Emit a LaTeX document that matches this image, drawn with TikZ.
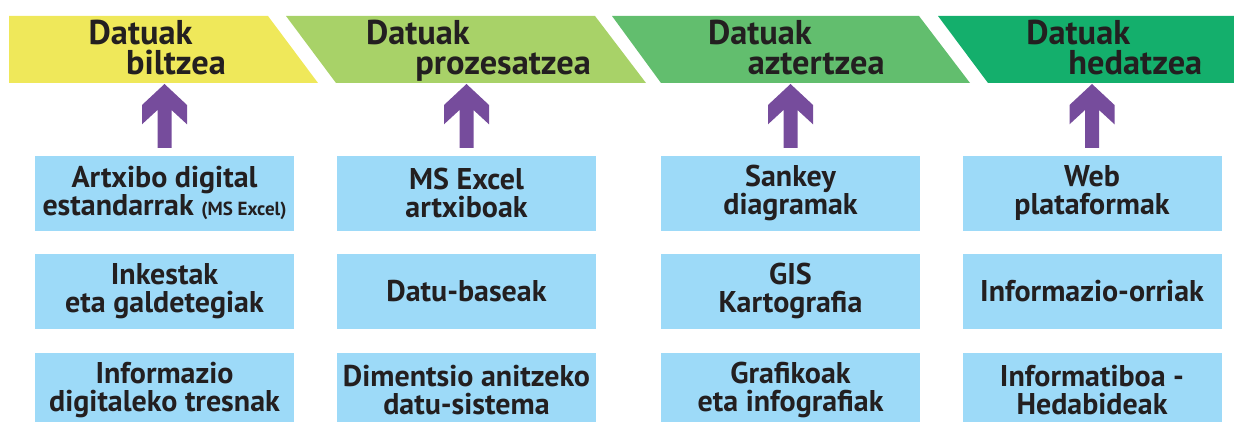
\documentclass[tikz,border=0pt]{standalone}
\usepackage{fontspec}
\setmainfont{PT Sans}
\usetikzlibrary{calc}
\definecolor{stageA}{HTML}{EFE85A}
\definecolor{stageB}{HTML}{A8D268}
\definecolor{stageC}{HTML}{62BE6E}
\definecolor{stageD}{HTML}{14AF6C}
\definecolor{toolblue}{HTML}{9DDAF8}
\definecolor{uppurple}{HTML}{764C9C}
\definecolor{ink}{HTML}{231F20}

\begin{document}
\begin{tikzpicture}[
x=0.5pt, y=-0.5pt,
tool/.style={
	rectangle, fill=toolblue,
	minimum width=129.5pt, minimum height=37.25pt,
	inner sep=0pt, align=center, text=ink,
	font=\fontsize{15}{14}\selectfont\bfseries
},
head/.style={
	anchor=base west, inner sep=0pt, text=ink,
	font=\fontsize{17.2}{16}\selectfont\bfseries
},
up/.style={
	fill=uppurple,
	to path={let \p1 = (\tikztostart), \p2 = (\tikztotarget) in
		(\x1-3.5pt,\y1+3.85pt) -- (\x1-3.5pt,\y2-13pt)
		-- (\x1-11.25pt,\y2-20.15pt) -- (\x1-11.25pt,\y2-10.5pt)
		-- (\x1,\y2) -- (\x1+11.25pt,\y2-10.5pt)
		-- (\x1+11.25pt,\y2-20.15pt) -- (\x1+3.5pt,\y2-13pt)
		-- (\x1+3.5pt,\y1+3.85pt) -- cycle}
}
]
\useasboundingbox (0,0) rectangle (1234,422);
\clip (0,0) rectangle (1234,422);

% stages
\fill[stageA] (9,16) -- (268,16) -- (318,83) -- (9,83) -- cycle;
\fill[stageB] (286,16) -- (595,16) -- (646,83) -- (336,83) -- cycle;
\fill[stageC] (612,16) -- (919,16) -- (970,83) -- (661,83) -- cycle;
\fill[stageD] (938,16) -- (1234,16) -- (1234,83) -- (988,83) -- cycle;

\node[head] (h1a) at (88.3,45) {Datuak};
\node[head] (h1b) at (125.7,75) {biltzea};
\node[head] (h2a) at (365.6,45) {Datuak};
\node[head] (h2b) at (415,75) {prozesatzea};
\node[head] (h3a) at (707.6,45) {Datuak};
\node[head] (h3b) at (747.5,75) {aztertzea};
\node[head] (h4a) at (1026,45) {Datuak};
\node[head] (h4b) at (1068,75) {hedatzea};

\coordinate (s1) at (164.5,84);
\coordinate (s2) at (466.5,84);
\coordinate (s3) at (790.5,84);
\coordinate (s4) at (1092,84);

% tools
\node[tool] (t11) at (164.5,193.3) {Artxibo digital\\estandarrak {\fontsize{9.5}{9}\selectfont(MS Excel)}};
\node[tool] (t12) at (164.5,291.3) {Inkestak\\eta galdetegiak};
\node[tool] (t13) at (164.5,390.3) {Informazio\\digitaleko tresnak};
\node[tool] (t21) at (466.5,193.3) {MS Excel\\artxiboak};
\node[tool] (t22) at (466.5,291.3) {Datu-baseak};
\node[tool] (t23) at (466.5,390.3) {Dimentsio anitzeko\\datu-sistema};
\node[tool] (t31) at (790.5,193.3) {Sankey\\diagramak};
\node[tool] (t32) at (790.5,291.3) {GIS\\Kartografia};
\node[tool] (t33) at (790.5,390.3) {Grafikoak\\eta infografiak};
\node[tool] (t41) at (1092,193.3) {Web\\plataformak};
\node[tool] (t42) at (1092,291.3) {Informazio-orriak};
\node[tool] (t43) at (1092,390.3) {Informatiboa -\\Hedabideak};

\foreach \i in {1,...,4}
{
	\path[up] (t\i1.north) to (s\i);
}
\end{tikzpicture}
\end{document}
